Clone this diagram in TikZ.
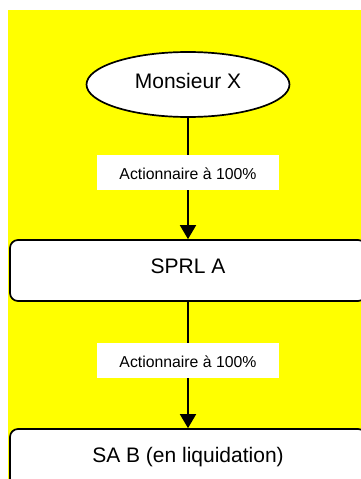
\documentclass[tikz,border=0pt]{standalone}
\usepackage{fontspec}
\setmainfont{Liberation Sans}
\usetikzlibrary{shapes.geometric,arrows.meta}
\definecolor{bgyellow}{HTML}{FFFF00}
\tikzset{
  person/.style={ellipse, draw=black, fill=white, line width=1.7pt,
    minimum width=203pt, minimum height=65pt, inner sep=0pt,
    font=\fontsize{21}{21}\selectfont, text height=15pt, text depth=7pt},
  company/.style={rectangle, rounded corners=8pt, draw=black, fill=white,
    line width=1.7pt, minimum width=356pt, minimum height=61pt, inner sep=0pt,
    font=\fontsize{21}{21}\selectfont, text height=15pt, text depth=10pt},
  sharelabel/.style={rectangle, fill=white, draw=none, minimum width=182pt,
    minimum height=35pt, inner sep=0pt, font=\fontsize{15.8}{15.8}\selectfont,
    text height=13.6pt, text depth=0pt},
  owns/.style={line width=1.7pt, -{Triangle[width=16pt,length=14pt]}},
}
\begin{document}
\begin{tikzpicture}[x=1pt,y=-1pt]
  \useasboundingbox (0,0) rectangle (361,479);
  \clip (0,0) rectangle (361,479);
  \fill[white] (0,0) rectangle (361,479);
  \fill[bgyellow] (8,10) rectangle (361,479);

  % holders and companies
  \node[person]  (mx)   at (188,84.5)  {Monsieur X};
  \node[company] (sprl) at (188,270.5) {SPRL A};
  \node[company] (sab)  at (188,459.5) {SA B (en liquidation)};

  % ownership links
  \draw[owns] (mx.south) -- (sprl.north)
    node[sharelabel, pos=0.45] (own1) {Actionnaire à 100\%};
  \draw[owns] (sprl.south) -- (sab.north)
    node[sharelabel, pos=0.465] (own2) {Actionnaire à 100\%};
\end{tikzpicture}
\end{document}
